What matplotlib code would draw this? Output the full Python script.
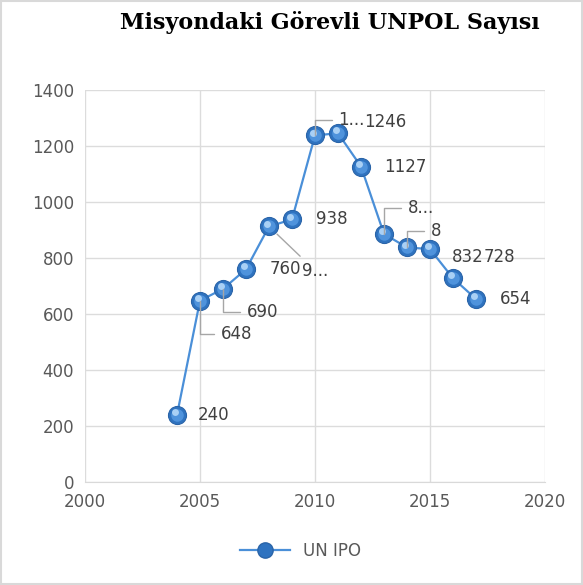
import matplotlib
matplotlib.use("Agg")
import matplotlib.pyplot as plt
import matplotlib.transforms as mtransforms
from matplotlib.lines import Line2D
from matplotlib.patches import Rectangle

years = [2004, 2005, 2006, 2007, 2008, 2009, 2010, 2011, 2012, 2013, 2014, 2015, 2016, 2017]
values = [240, 648, 690, 760, 913, 938, 1238, 1246, 1127, 886, 838, 832, 728, 654]
labels = ["240", "648", "690", "760", "9...", "938", "1...", "1246", "1127", "8...", "8", "832", "728", "654"]
title = "Misyondaki Görevli UNPOL Sayısı"
series_name = "UN IPO"
xticks = [2000, 2005, 2010, 2015, 2020]
yticks = [0, 200, 400, 600, 800, 1000, 1200, 1400]

# label offsets in points (dx, dy) and leader style
offsets = [(15, 0, None), (15, -24, "angle"), (17, -17, "angle"), (17, 0, None),
           (24, -32, "straight"), (17, 0, None), (17, 11, "angle"), (19, 8, None),
           (17, 0, None), (17, 19, "angle"), (17, 12, "angle"), (16, -6, None),
           (22, 15, None), (17, 0, None)]

fig = plt.figure(figsize=(5.83, 5.85), dpi=100)
fig.patches.append(Rectangle((0.002, 0.002), 0.996, 0.996, transform=fig.transFigure,
                             fill=False, edgecolor="#d9d9d9", linewidth=1.5))
ax = fig.add_axes([0.1458, 0.176, 0.789, 0.670])

ax.set_xlim(2000, 2020)
ax.set_ylim(0, 1400)
ax.set_xticks(xticks)
ax.set_yticks(yticks)
ax.grid(True, color="#dcdcdc", linewidth=1.0)
ax.set_axisbelow(True)
for s in ["top", "right", "left"]:
    ax.spines[s].set_visible(False)
ax.spines["bottom"].set_color("#d9d9d9")
ax.tick_params(length=0, labelsize=12, colors="#595959", pad=8)

line_color = "#4a8fd8"
ax.plot(years, values, color=line_color, linewidth=1.6, zorder=3)
ax.plot(years, values, linestyle="none", marker="o", markersize=13,
        markerfacecolor="#2f73c0", markeredgecolor="#2a64a8", markeredgewidth=0.8, zorder=4)
ax.plot(years, values, linestyle="none", marker="o", markersize=9,
        markerfacecolor="#4f93dc", markeredgewidth=0, zorder=5)
hl = mtransforms.offset_copy(ax.transData, fig=fig, x=-1.5, y=2.0, units="points")
ax.plot(years, values, linestyle="none", marker="o", markersize=5,
        markerfacecolor="#a9d0f5", markeredgewidth=0, zorder=6, transform=hl)

for x, y, lab, (dx, dy, lead) in zip(years, values, labels, offsets):
    if lead == "angle":
        ap = dict(arrowstyle="-", color="#a6a6a6", lw=1.0,
                  connectionstyle="angle,angleA=0,angleB=90,rad=0", shrinkA=3, shrinkB=0)
    elif lead == "straight":
        ap = dict(arrowstyle="-", color="#a6a6a6", lw=1.0, shrinkA=3, shrinkB=8)
    else:
        ap = None
    ax.annotate(lab, xy=(x, y), xytext=(dx, dy), textcoords="offset points",
                ha="left", va="center", fontsize=12, color="#404040", zorder=7,
                arrowprops=ap)

fig.text(0.566, 0.962, title, ha="center", va="center", fontsize=16,
         fontweight="bold", family="DejaVu Serif", color="black")

handle = Line2D([0], [0], color=line_color, linewidth=1.6, marker="o", markersize=11,
                markerfacecolor="#2f73c0", markeredgecolor="#2a64a8")
fig.legend([handle], [series_name], loc="center", bbox_to_anchor=(0.515, 0.058),
           frameon=False, fontsize=12, handlelength=3, labelcolor="#595959")

fig.savefig("out.png", dpi=100)
